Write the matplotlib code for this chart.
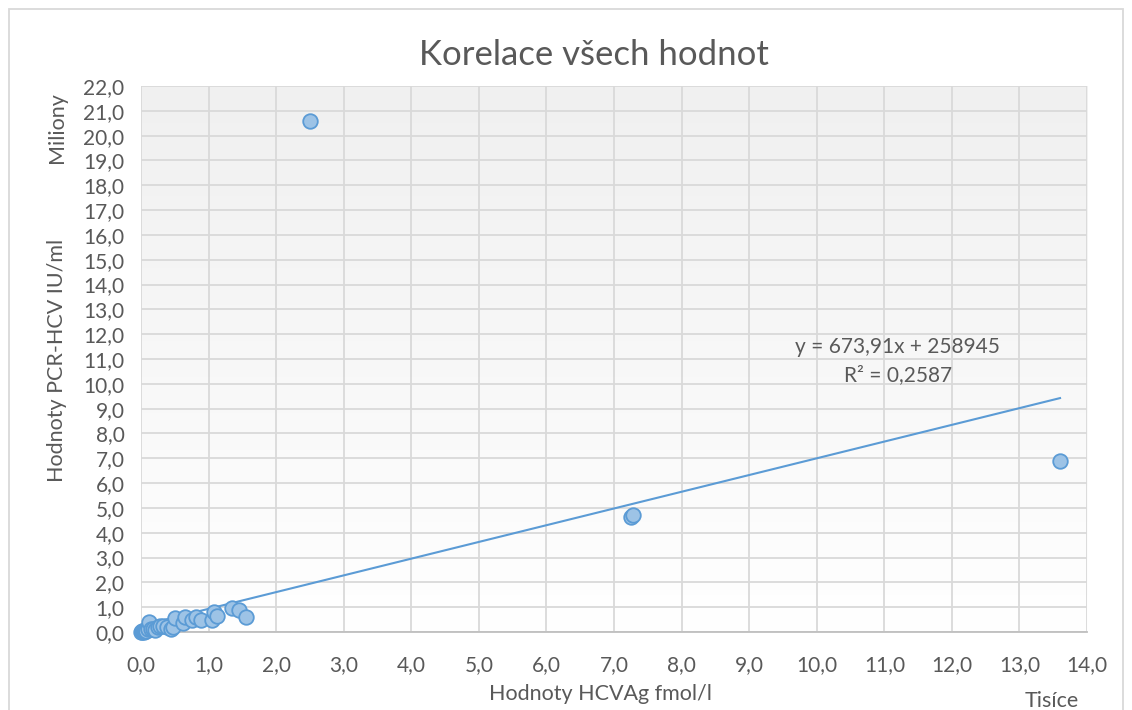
import numpy as np
import matplotlib
matplotlib.use('Agg')
from matplotlib import pyplot as plt
from matplotlib.patches import Rectangle
from matplotlib.colors import LinearSegmentedColormap

plt.rcParams['font.family'] = ['Lato', 'DejaVu Sans']

# HCVAg (thousands fmol/l) vs PCR-HCV (millions IU/ml)
hcvag = [0.00, 0.01, 0.02, 0.03, 0.04, 0.05, 0.06, 0.08, 0.10, 0.12, 0.15, 0.18,
         0.20, 0.25, 0.28, 0.32, 0.38, 0.45, 0.48, 0.50, 0.62, 0.65, 0.75, 0.82,
         0.88, 1.05, 1.08, 1.12, 1.35, 1.45, 1.55, 2.50, 7.25, 7.28, 13.60]
pcr = [0.00, 0.02, 0.00, 0.05, 0.01, 0.03, 0.08, 0.05, 0.10, 0.40, 0.10, 0.12,
       0.08, 0.20, 0.25, 0.25, 0.22, 0.10, 0.20, 0.55, 0.35, 0.60, 0.50, 0.60,
       0.50, 0.50, 0.80, 0.65, 0.95, 0.90, 0.60, 20.60, 4.62, 4.70, 6.90]
slope = 673.91
intercept = 258945
r2 = 0.2587

grey = '#595959'
blue = '#5b9bd5'

fig = plt.figure(figsize=(11.32, 7.10), dpi=100)
ax = fig.add_axes([0.1246, 0.1099, 0.8357, 0.7690])

# plot area gradient
grad = np.linspace(1, 0, 256).reshape(-1, 1)
ax.imshow(grad, extent=[0, 14, 0, 22], aspect='auto',
          cmap=LinearSegmentedColormap.from_list('g', ['#f0f0f0', '#ffffff']),
          zorder=0, origin='lower')
ax.set_xlim(0, 14)
ax.set_ylim(0, 22)
ax.set_xticks(np.arange(0, 15, 1))
ax.set_yticks(np.arange(0, 23, 1))
ax.set_xticklabels([f'{v:.1f}'.replace('.', ',') for v in np.arange(0, 15, 1)])
ax.set_yticklabels([f'{v:.1f}'.replace('.', ',') for v in np.arange(0, 23, 1)])
ax.grid(True, color='#d9d9d9', lw=1.3, zorder=1)
ax.set_axisbelow(True)
ax.tick_params(length=0, labelsize=15, labelcolor=grey)
ax.tick_params(axis='x', pad=17)
ax.tick_params(axis='y', pad=12)
for s in ['top', 'right', 'left']:
    ax.spines[s].set_visible(False)
ax.spines['bottom'].set_color('#bfbfbf')
ax.spines['bottom'].set_linewidth(1.3)

xs = np.array([min(hcvag), max(hcvag)])
ax.plot(xs, (slope * xs * 1000 + intercept) / 1e6, color=blue, lw=1.5, zorder=3)
ax.scatter(hcvag, pcr, s=110, facecolor='#9dc3e6', edgecolor=blue, linewidth=1.3,
           zorder=4, clip_on=False)

ax.text(11.2, 11.5, 'y = 673,91x + 258945', ha='center', va='center', fontsize=15, color=grey)
ax.text(11.2, 10.36, 'R² = 0,2587', ha='center', va='center', fontsize=15, color=grey)

fig.text(0.5247, 0.922, 'Korelace všech hodnot', ha='center', va='center', fontsize=25, color=grey)
fig.text(0.050, 0.493, 'Hodnoty PCR-HCV IU/ml', rotation=90, ha='center', va='center', fontsize=15.5, color=grey)
fig.text(0.050, 0.820, 'Miliony', rotation=90, ha='center', va='center', fontsize=15.5, color=grey)
fig.text(0.530, 0.022, 'Hodnoty HCVAg fmol/l', ha='center', va='center', fontsize=15.5, color=grey)
fig.text(0.929, 0.013, 'Tisíce', ha='center', va='center', fontsize=15.5, color=grey)

fig.patches.append(Rectangle((9 / 1132, -0.05), 1114 / 1132, 1.05 - 9 / 710, transform=fig.transFigure,
                             fill=False, edgecolor='#d9d9d9', lw=1.3))

fig.savefig('out.png', dpi=100)
